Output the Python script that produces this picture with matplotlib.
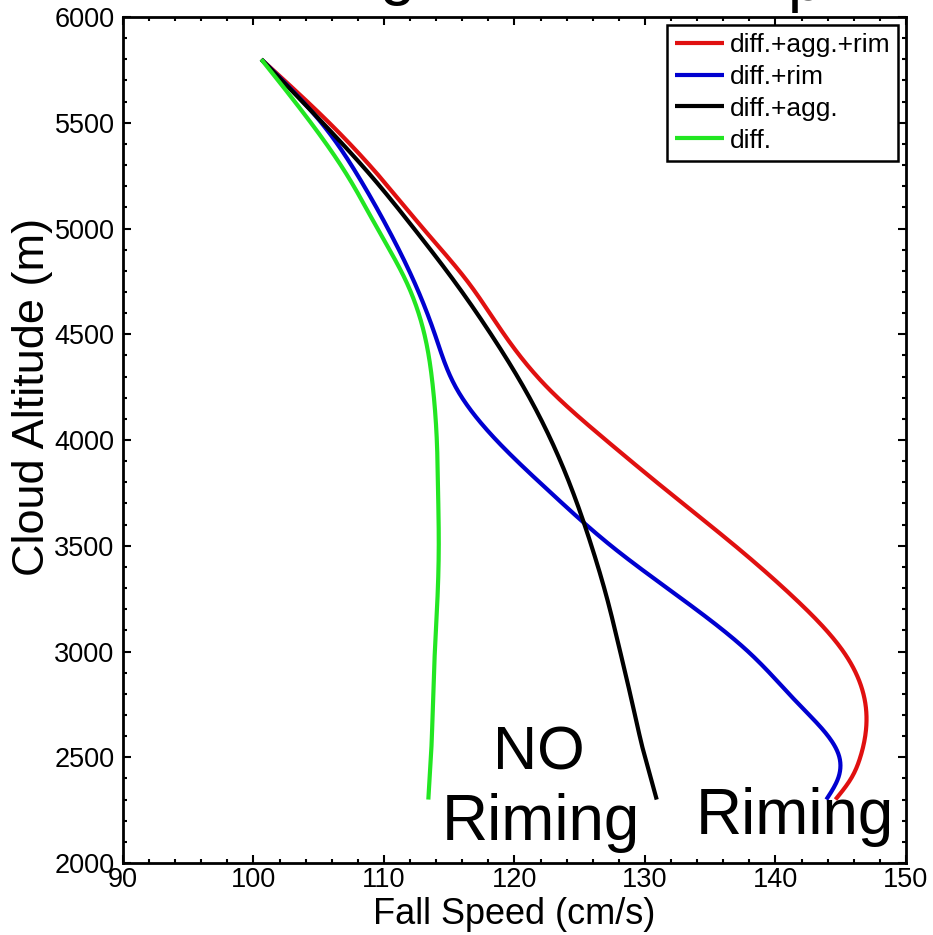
import numpy as np
import matplotlib
matplotlib.use('Agg')
import matplotlib.pyplot as plt

# cloud altitude (m) and fall speed (cm/s) of each run, top of the cloud first
alt = [5800, 5500, 5250, 5000, 4750, 4500, 4250, 4000, 3750, 3500, 3250, 3000, 2750, 2500, 2400, 2300]

v_red = [100.6, 105.8, 109.6, 113.0, 116.4, 119.2, 122.5, 127.0, 131.9, 136.9, 141.5, 145.2, 146.9, 146.5, 145.8, 144.6]
v_blue = [100.6, 105.2, 108.0, 110.3, 112.3, 113.9, 115.5, 118.6, 122.8, 127.4, 132.8, 137.9, 141.8, 144.9, 144.8, 143.9]
v_black = [100.6, 105.3, 109.0, 112.3, 115.4, 118.2, 120.7, 122.8, 124.5, 125.9, 127.1, 128.1, 129.05, 130.0, 130.45, 130.9]
v_green = [100.6, 104.4, 107.2, 109.5, 111.7, 113.1, 113.75, 114.05, 114.15, 114.2, 114.1, 113.9, 113.75, 113.6, 113.5, 113.4]

labels = ['diff.+agg.+rim', 'diff.+rim', 'diff.+agg.', 'diff.']
colors = ['#e01010', '#0000d0', 'black', '#22e622']


def natural_spline(xk, yk, n=500):
    xk = np.asarray(xk, float)[::-1]
    yk = np.asarray(yk, float)[::-1]
    k = len(xk)
    h = np.diff(xk)
    A = np.zeros((k, k))
    r = np.zeros(k)
    A[0, 0] = A[-1, -1] = 1.0
    for i in range(1, k - 1):
        A[i, i - 1] = h[i - 1]
        A[i, i] = 2 * (h[i - 1] + h[i])
        A[i, i + 1] = h[i]
        r[i] = 6 * ((yk[i + 1] - yk[i]) / h[i] - (yk[i] - yk[i - 1]) / h[i - 1])
    M = np.linalg.solve(A, r)
    xs = np.linspace(xk[0], xk[-1], n)
    i = np.clip(np.searchsorted(xk, xs) - 1, 0, k - 2)
    hi = h[i]
    a = xk[i + 1] - xs
    b = xs - xk[i]
    ys = (M[i] * a**3 + M[i + 1] * b**3) / (6 * hi) \
        + (yk[i] / hi - M[i] * hi / 6) * a + (yk[i + 1] / hi - M[i + 1] * hi / 6) * b
    return xs, ys


plt.rcParams['font.family'] = ['Liberation Sans', 'DejaVu Sans']

fig = plt.figure(figsize=(9.33, 9.35), dpi=100)
ax = fig.add_axes([0.1318, 0.0770, 0.8392, 0.9048])

for v, lab, c in zip([v_red, v_blue, v_black, v_green], labels, colors):
    ys, xs = natural_spline(alt, v)
    ax.plot(xs, ys, color=c, lw=3.0, label=lab, solid_capstyle='butt')

ax.set_xlim(90, 150)
ax.set_ylim(2000, 6000)
ax.set_xticks(np.arange(90, 151, 10))
ax.set_xticks(np.arange(90, 151, 2), minor=True)
ax.set_yticks(np.arange(2000, 6001, 500))
ax.set_yticks(np.arange(2000, 6001, 100), minor=True)
ax.tick_params(which='both', direction='in', top=True, right=True, width=1.5)
ax.tick_params(which='major', length=5.5, labelsize=19.5)
ax.tick_params(axis='y', which='major', pad=6)
ax.tick_params(axis='x', which='major', pad=3)
ax.tick_params(which='minor', length=3)
for sp in ax.spines.values():
    sp.set_linewidth(2.0)

ax.set_xlabel('Fall Speed (cm/s)', fontsize=26, labelpad=3)
ax.set_ylabel('Cloud Altitude (m)', fontsize=32.5)
ax.yaxis.set_label_coords(-0.089, 0.551)

leg = ax.legend(loc='upper right', fontsize=19, handlelength=1.85, handletextpad=0.2,
                labelspacing=0.3, borderpad=0.3, borderaxespad=0.3, fancybox=False,
                framealpha=1)
leg.get_frame().set_edgecolor('black')
leg.get_frame().set_linewidth(1.8)

ax.text(121.9, 2440, 'NO', fontsize=44, ha='center', va='baseline')
ax.text(122.0, 2109, 'Riming', fontsize=46, ha='center', va='baseline')
ax.text(141.5, 2135, 'Riming', fontsize=46, ha='center', va='baseline')

# heading above the plot, only its descenders fall inside the figure
fig.text(397 / 933, 1.0 + 7 / 935, 'g', fontsize=46, ha='center', va='baseline')
fig.text(806 / 933, 1.0, 'p', fontsize=46, ha='center', va='baseline')

fig.savefig('out.png', dpi=100)
